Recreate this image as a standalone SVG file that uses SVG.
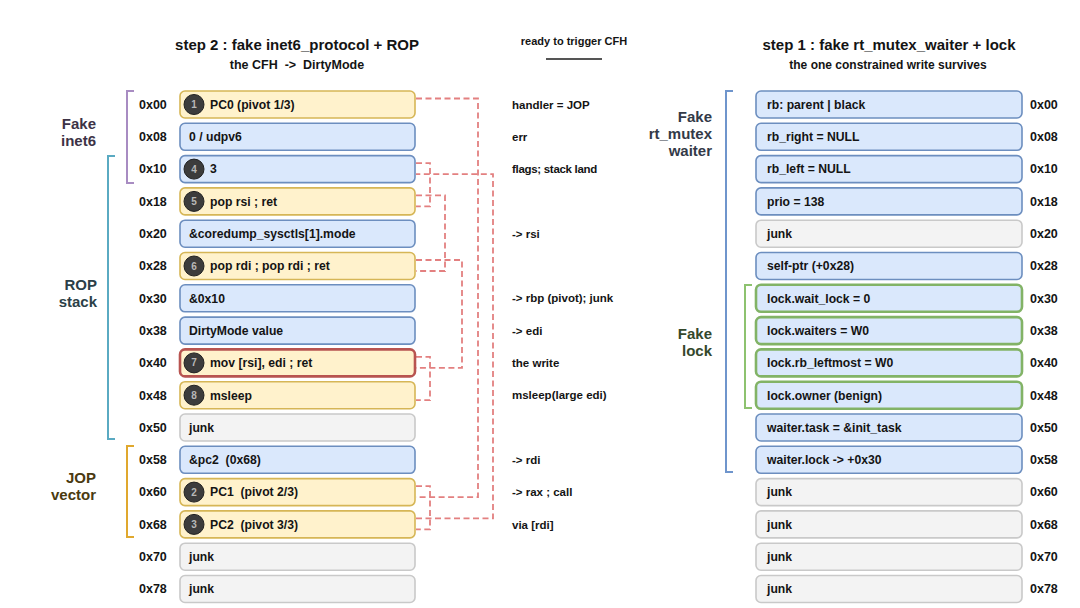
<svg xmlns="http://www.w3.org/2000/svg" width="1080" height="608" viewBox="0 0 1080 608">
<style>
text{font-family:"Liberation Sans",Arial,sans-serif;font-weight:bold;fill:#141414}
.title{font-size:15px;text-anchor:middle}
.sub{font-size:12.5px;text-anchor:middle}
.off{font-size:12.5px}
.lbl{font-size:12.2px}
.ann{font-size:11.5px}
.grp{font-size:15px;text-anchor:end}
.bl{fill:#dae8fc;stroke:#6c8ebf;stroke-width:1.6}
.ye{fill:#fff2cc;stroke:#d6b656;stroke-width:1.6}
.gr{fill:#f3f3f3;stroke:#c9c9c9;stroke-width:1.6}
.rd{fill:#fff2cc;stroke:#b85450;stroke-width:2.6}
.gn{fill:#dae8fc;stroke:#82b366;stroke-width:2.6}
.bd{fill:#3c3c3c;stroke:#222;stroke-width:1}
.bn{font-size:10px;fill:#b8b8b8;text-anchor:middle}
.br{fill:none;stroke-width:2}
.cn{fill:none;stroke:#e38080;stroke-width:1.8;stroke-dasharray:6 3.5}
</style>

<g id="headers">
<text class="title" x="297" y="50">step 2 : fake inet6_protocol + ROP</text>
<text class="sub" x="297" y="68.5" xml:space="preserve">the CFH  -&gt;  DirtyMode</text>
<text class="sub" x="574" y="45" style="font-size:11px">ready to trigger CFH</text>
<line x1="546" y1="59" x2="602" y2="59" stroke="#555" stroke-width="2"/>
<text class="title" x="889" y="50">step 1 : fake rt_mutex_waiter + lock</text>
<text class="sub" x="888" y="68.5" style="font-size:12px">the one constrained write survives</text>
</g>

<g id="groups">
<path class="br" stroke="#a88cc2" d="M134,91 H127 V183 H134"/>
<text class="grp" x="96" y="128.5" style="fill:#3d3346">Fake</text>
<text class="grp" x="96" y="145.5" style="fill:#3d3346">inet6</text>
<path class="br" stroke="#5aaac2" d="M115,156 H108 V439 H115"/>
<text class="grp" x="97" y="290" style="fill:#2c3f48">ROP</text>
<text class="grp" x="97" y="307" style="fill:#2c3f48">stack</text>
<path class="br" stroke="#e0a82e" d="M134,446 H127 V537 H134"/>
<text class="grp" x="96" y="483" style="fill:#4a3a10">JOP</text>
<text class="grp" x="96" y="500" style="fill:#4a3a10">vector</text>
<path class="br" stroke="#6f95cc" d="M733,91 H726 V472 H733"/>
<text class="grp" x="712" y="122" style="fill:#333a48">Fake</text>
<text class="grp" x="712" y="139" style="fill:#333a48">rt_mutex</text>
<text class="grp" x="712" y="156" style="fill:#333a48">waiter</text>
<path class="br" stroke="#8dc26f" d="M752,285 H745 V408 H752"/>
<text class="grp" x="712" y="339" style="fill:#34482c">Fake</text>
<text class="grp" x="712" y="356" style="fill:#34482c">lock</text>
</g>

<g id="connectors">
<path class="cn" d="M416,98.5 H478 V497.1 H416"/>
<path class="cn" d="M416,486.1 H430 V529.4 H416"/>
<path class="cn" d="M416,518.4 H493 V174.1 H416"/>
<path class="cn" d="M416,163.1 H430 V206.4 H416"/>
<path class="cn" d="M416,195.4 H445 V271 H416"/>
<path class="cn" d="M416,260 H462 V367.9 H416"/>
<path class="cn" d="M416,356.9 H430 V400.2 H416"/>
</g>

<g id="left-stack">
<g id="L00"><text class="off" x="139" y="108.8">0x00</text><rect class="ye" x="180" y="91" width="235" height="27" rx="5"/><circle class="bd" cx="194" cy="104.5" r="10"/><text class="bn" x="194" y="108">1</text><text class="lbl" x="210" y="108.8">PC0 (pivot 1/3)</text></g>
<g id="L08"><text class="off" x="139" y="141.1">0x08</text><rect class="bl" x="180" y="123.3" width="235" height="27" rx="5"/><text class="lbl" x="189" y="141.1">0 / udpv6</text></g>
<g id="L10"><text class="off" x="139" y="173.4">0x10</text><rect class="bl" x="180" y="155.6" width="235" height="27" rx="5"/><circle class="bd" cx="194" cy="169.1" r="10"/><text class="bn" x="194" y="172.6">4</text><text class="lbl" x="210" y="173.4">3</text></g>
<g id="L18"><text class="off" x="139" y="205.7">0x18</text><rect class="ye" x="180" y="187.9" width="235" height="27" rx="5"/><circle class="bd" cx="194" cy="201.4" r="10"/><text class="bn" x="194" y="204.9">5</text><text class="lbl" x="210" y="205.7">pop rsi ; ret</text></g>
<g id="L20"><text class="off" x="139" y="238">0x20</text><rect class="bl" x="180" y="220.2" width="235" height="27" rx="5"/><text class="lbl" x="189" y="238">&amp;coredump_sysctls[1].mode</text></g>
<g id="L28"><text class="off" x="139" y="270.3">0x28</text><rect class="ye" x="180" y="252.5" width="235" height="27" rx="5"/><circle class="bd" cx="194" cy="266" r="10"/><text class="bn" x="194" y="269.5">6</text><text class="lbl" x="210" y="270.3">pop rdi ; pop rdi ; ret</text></g>
<g id="L30"><text class="off" x="139" y="302.6">0x30</text><rect class="bl" x="180" y="284.8" width="235" height="27" rx="5"/><text class="lbl" x="189" y="302.6">&amp;0x10</text></g>
<g id="L38"><text class="off" x="139" y="334.9">0x38</text><rect class="bl" x="180" y="317.1" width="235" height="27" rx="5"/><text class="lbl" x="189" y="334.9">DirtyMode value</text></g>
<g id="L40"><text class="off" x="139" y="367.2">0x40</text><rect class="rd" x="180" y="349.4" width="235" height="27" rx="5"/><circle class="bd" cx="194" cy="362.9" r="10"/><text class="bn" x="194" y="366.4">7</text><text class="lbl" x="210" y="367.2">mov [rsi], edi ; ret</text></g>
<g id="L48"><text class="off" x="139" y="399.5">0x48</text><rect class="ye" x="180" y="381.7" width="235" height="27" rx="5"/><circle class="bd" cx="194" cy="395.2" r="10"/><text class="bn" x="194" y="398.7">8</text><text class="lbl" x="210" y="399.5">msleep</text></g>
<g id="L50"><text class="off" x="139" y="431.8">0x50</text><rect class="gr" x="180" y="414" width="235" height="27" rx="5"/><text class="lbl" x="189" y="431.8">junk</text></g>
<g id="L58"><text class="off" x="139" y="464.1">0x58</text><rect class="bl" x="180" y="446.3" width="235" height="27" rx="5"/><text class="lbl" x="189" y="464.1" xml:space="preserve">&amp;pc2  (0x68)</text></g>
<g id="L60"><text class="off" x="139" y="496.4">0x60</text><rect class="ye" x="180" y="478.6" width="235" height="27" rx="5"/><circle class="bd" cx="194" cy="492.1" r="10"/><text class="bn" x="194" y="495.6">2</text><text class="lbl" x="210" y="496.4" xml:space="preserve">PC1  (pivot 2/3)</text></g>
<g id="L68"><text class="off" x="139" y="528.7">0x68</text><rect class="ye" x="180" y="510.9" width="235" height="27" rx="5"/><circle class="bd" cx="194" cy="524.4" r="10"/><text class="bn" x="194" y="527.9">3</text><text class="lbl" x="210" y="528.7" xml:space="preserve">PC2  (pivot 3/3)</text></g>
<g id="L70"><text class="off" x="139" y="561">0x70</text><rect class="gr" x="180" y="543.2" width="235" height="27" rx="5"/><text class="lbl" x="189" y="561">junk</text></g>
<g id="L78"><text class="off" x="139" y="593.3">0x78</text><rect class="gr" x="180" y="575.5" width="235" height="27" rx="5"/><text class="lbl" x="189" y="593.3">junk</text></g>
</g>

<g id="annotations">
<text class="ann" x="512" y="108.6">handler = JOP</text>
<text class="ann" x="512" y="140.9">err</text>
<text class="ann" x="512" y="173.2" style="letter-spacing:-0.3px">flags; stack land</text>
<text class="ann" x="512" y="237.8">-&gt; rsi</text>
<text class="ann" x="512" y="302.4">-&gt; rbp (pivot); junk</text>
<text class="ann" x="512" y="334.7">-&gt; edi</text>
<text class="ann" x="512" y="367">the write</text>
<text class="ann" x="512" y="399.3">msleep(large edi)</text>
<text class="ann" x="512" y="463.9">-&gt; rdi</text>
<text class="ann" x="512" y="496.2">-&gt; rax ; call</text>
<text class="ann" x="512" y="528.5">via [rdi]</text>
</g>

<g id="right-struct">
<g id="R00"><rect class="bl" x="756" y="91" width="266" height="27" rx="5"/><text class="lbl" x="767" y="108.8">rb: parent | black</text><text class="off" x="1030" y="108.8">0x00</text></g>
<g id="R08"><rect class="bl" x="756" y="123.3" width="266" height="27" rx="5"/><text class="lbl" x="767" y="141.1">rb_right = NULL</text><text class="off" x="1030" y="141.1">0x08</text></g>
<g id="R10"><rect class="bl" x="756" y="155.6" width="266" height="27" rx="5"/><text class="lbl" x="767" y="173.4">rb_left = NULL</text><text class="off" x="1030" y="173.4">0x10</text></g>
<g id="R18"><rect class="bl" x="756" y="187.9" width="266" height="27" rx="5"/><text class="lbl" x="767" y="205.7">prio = 138</text><text class="off" x="1030" y="205.7">0x18</text></g>
<g id="R20"><rect class="gr" x="756" y="220.2" width="266" height="27" rx="5"/><text class="lbl" x="767" y="238">junk</text><text class="off" x="1030" y="238">0x20</text></g>
<g id="R28"><rect class="bl" x="756" y="252.5" width="266" height="27" rx="5"/><text class="lbl" x="767" y="270.3">self-ptr (+0x28)</text><text class="off" x="1030" y="270.3">0x28</text></g>
<g id="R30"><rect class="gn" x="756" y="284.8" width="266" height="27" rx="5"/><text class="lbl" x="767" y="302.6">lock.wait_lock = 0</text><text class="off" x="1030" y="302.6">0x30</text></g>
<g id="R38"><rect class="gn" x="756" y="317.1" width="266" height="27" rx="5"/><text class="lbl" x="767" y="334.9">lock.waiters = W0</text><text class="off" x="1030" y="334.9">0x38</text></g>
<g id="R40"><rect class="gn" x="756" y="349.4" width="266" height="27" rx="5"/><text class="lbl" x="767" y="367.2">lock.rb_leftmost = W0</text><text class="off" x="1030" y="367.2">0x40</text></g>
<g id="R48"><rect class="gn" x="756" y="381.7" width="266" height="27" rx="5"/><text class="lbl" x="767" y="399.5">lock.owner (benign)</text><text class="off" x="1030" y="399.5">0x48</text></g>
<g id="R50"><rect class="bl" x="756" y="414" width="266" height="27" rx="5"/><text class="lbl" x="767" y="431.8">waiter.task = &amp;init_task</text><text class="off" x="1030" y="431.8">0x50</text></g>
<g id="R58"><rect class="bl" x="756" y="446.3" width="266" height="27" rx="5"/><text class="lbl" x="767" y="464.1">waiter.lock -&gt; +0x30</text><text class="off" x="1030" y="464.1">0x58</text></g>
<g id="R60"><rect class="gr" x="756" y="478.6" width="266" height="27" rx="5"/><text class="lbl" x="767" y="496.4">junk</text><text class="off" x="1030" y="496.4">0x60</text></g>
<g id="R68"><rect class="gr" x="756" y="510.9" width="266" height="27" rx="5"/><text class="lbl" x="767" y="528.7">junk</text><text class="off" x="1030" y="528.7">0x68</text></g>
<g id="R70"><rect class="gr" x="756" y="543.2" width="266" height="27" rx="5"/><text class="lbl" x="767" y="561">junk</text><text class="off" x="1030" y="561">0x70</text></g>
<g id="R78"><rect class="gr" x="756" y="575.5" width="266" height="27" rx="5"/><text class="lbl" x="767" y="593.3">junk</text><text class="off" x="1030" y="593.3">0x78</text></g>
</g>
</svg>
